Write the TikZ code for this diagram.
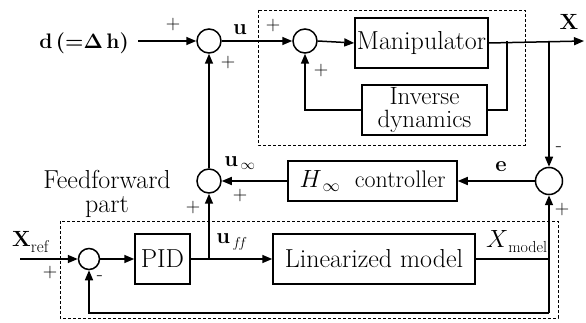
\documentclass[tikz,border=0pt]{standalone}
\usetikzlibrary{arrows.meta}
\begin{document}
\begin{tikzpicture}[x=1pt,y=-1pt,
  sumnode/.style={circle,draw,line width=1.5pt,minimum size=24pt,inner sep=0pt},
  blk/.style={rectangle,draw,line width=1.5pt,inner sep=0pt,align=center,font=\fontsize{26}{24}\selectfont},
  sig/.style={line width=1.5pt},
  arr/.style={sig,-{Triangle[length=10pt,width=8pt]}},
  sgn/.style={font=\fontsize{20}{20}\selectfont,inner sep=0pt},
  lbl/.style={font=\bfseries\fontsize{22}{22}\selectfont,inner sep=0pt},
  txt/.style={font=\fontsize{26}{24}\selectfont,inner sep=0pt,align=center},
  dbox/.style={line width=0.8pt,dash pattern=on 3pt off 2pt}
]
\useasboundingbox (0,0) rectangle (586,323);

% dashed groups
\draw[dbox] (258,10) rectangle (525,145);
\draw[dbox] (60,221) rectangle (558,318);

% summing junctions
\node[sumnode] (s1) at (209,41) {};
\node[sumnode] (s2) at (305,41) {};
\node[sumnode,minimum size=27pt] (s3) at (549,181) {};
\node[sumnode] (s4) at (209,181) {};
\node[sumnode,minimum size=21pt] (s5) at (89,259) {};

% blocks
\node[blk,minimum width=133pt,minimum height=50pt] (man) at (421.5,43) {Manipulator};
\node[blk,minimum width=125pt,minimum height=50pt,font=\fontsize{25}{23}\selectfont] (inv) at (424.5,110) {Inverse\\dynamics};
\node[blk,minimum width=169pt,minimum height=40pt,font=\fontsize{24}{24}\selectfont] (hinf) at (372.5,181) {$H_{\,\infty}$\ \ controller};
\node[blk,minimum width=55pt,minimum height=50pt] (pid) at (162.5,259) {PID};
\node[blk,minimum width=202pt,minimum height=50pt] (lm) at (374,259) {Linearized model};

% coordinates
\coordinate (din) at (138,41);
\coordinate (xout) at (584,41);
\coordinate (br1) at (507,41);
\coordinate (br2) at (549,41);
\coordinate (xrefin) at (20,259);
\coordinate (br3) at (209,259);
\coordinate (br4) at (549,259);
\coordinate (bot) at (549,313);

% texts
\node[lbl,anchor=east,font=\bfseries\fontsize{21}{21}\selectfont] (dl) at (129,43) {d\,(=$\mathbf{\Delta}$\,h)};
\node[lbl] (ul) at (240,30) {u};
\node[lbl] (xl) at (569,22) {X};
\node[lbl] (el) at (501,167) {e};
\node[lbl] (uinf) at (240,163) {u$_{\,\infty}$};
\node[lbl] (uff) at (232,242) {u$_{\,f\!f}$};
\node[lbl,anchor=west] (xref) at (12,242) {X\raisebox{-6pt}{\mdseries\fontsize{17}{17}\selectfont ref}};
\node[txt,anchor=west,font=\fontsize{24}{24}\selectfont] (xmod) at (486,242) {$X$\raisebox{-5pt}{\fontsize{16}{16}\selectfont model}};
\node[txt] (ffp) at (107,194) {Feedforward\\part};

% signs
\node[sgn] at (173,25) {+};
\node[sgn] at (273,26) {+};
\node[sgn] at (228,63) {+};
\node[sgn] at (321,71) {+};
\node[sgn] at (559,149) {-};
\node[sgn] at (562,210) {+};
\node[sgn] at (240,196) {+};
\node[sgn] at (193,208) {+};
\node[sgn] at (50,273) {+};
\node[sgn] at (100,278) {-};

% connectors
\draw[arr] (din) -- (s1.west);
\draw[arr] (s1.east) -- (s2.west);
\draw[arr] (s2.east) -- (man.west);
\draw[arr] (man.east) -- (xout);
\draw[sig] (br1) |- (inv.east);
\draw[arr] (inv.west) -| (s2.south);
\draw[arr] (br2) -- (s3.north);
\draw[arr] (s3.west) -- (hinf.east);
\draw[arr] (hinf.west) -- (s4.east);
\draw[arr] (s4.north) -- (s1.south);
\draw[arr] (xrefin) -- (s5.west);
\draw[arr] (s5.east) -- (pid.west);
\draw[arr] (pid.east) -- (lm.west);
\draw[arr] (br3) -- (s4.south);
\draw[sig] (lm.east) -- (br4);
\draw[arr] (bot) -- (s3.south);
\draw[arr] (bot) -| (s5.south);
\end{tikzpicture}
\end{document}
